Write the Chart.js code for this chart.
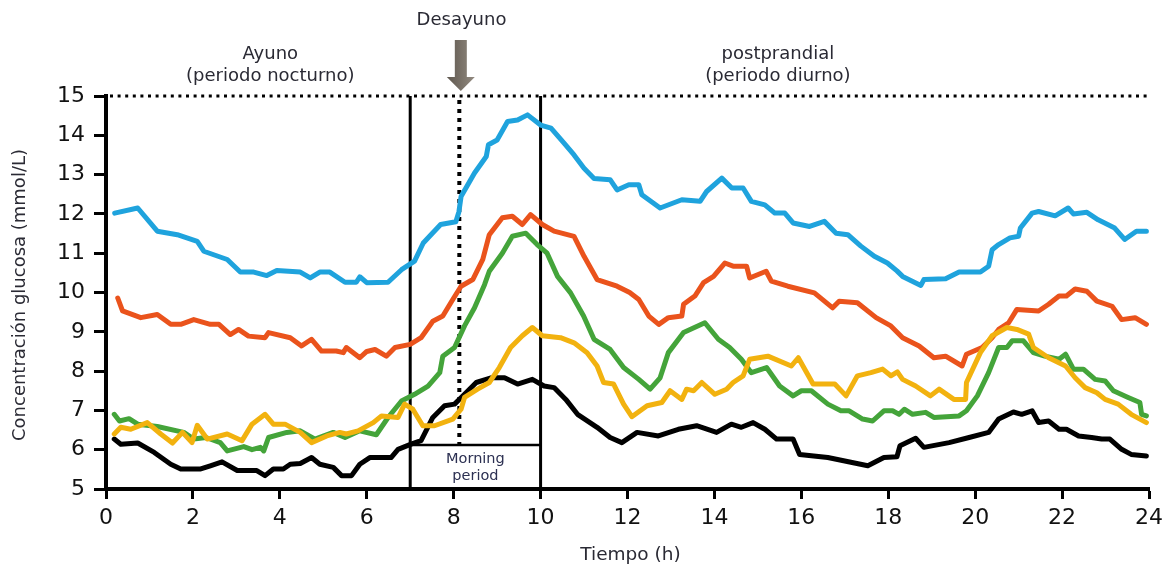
<!DOCTYPE html>
<html>
<head>
<meta charset="utf-8">
<script src="https://cdn.jsdelivr.net/npm/chart.js@4.4.0/dist/chart.umd.min.js"></script>
<style>
  body { margin: 0; background: #fff; }
  #wrap { width: 1169px; height: 567px; }
</style>
</head>
<body>
<div id="wrap"><canvas id="glucosa" width="1169" height="567"></canvas></div>
<script>
/* --------------- Series: [hour, mmol/L] --------------- */

const serieAzul = [[0.2,12.02],[0.73,12.15],[1.18,11.56],[1.64,11.47],[2.1,11.3],[2.25,11.05],[2.79,10.84],[3.09,10.52],[3.4,10.52],[3.7,10.43],[3.93,10.56],[4.47,10.52],[4.7,10.37],[4.92,10.52],[5.15,10.52],[5.5,10.26],[5.76,10.26],[5.84,10.4],[6.0,10.25],[6.49,10.26],[6.8,10.58],[7.1,10.8],[7.3,11.26],[7.7,11.73],[8.05,11.8],[8.12,12.05],[8.17,12.44],[8.48,13.04],[8.75,13.46],[8.8,13.76],[9.0,13.88],[9.24,14.35],[9.47,14.39],[9.7,14.52],[10.0,14.26],[10.24,14.18],[10.54,13.8],[10.77,13.5],[11.0,13.16],[11.23,12.9],[11.6,12.87],[11.76,12.61],[12.03,12.74],[12.26,12.74],[12.33,12.49],[12.75,12.15],[13.25,12.36],[13.67,12.32],[13.82,12.57],[14.17,12.91],[14.4,12.66],[14.66,12.66],[14.85,12.32],[15.16,12.23],[15.39,12.02],[15.62,12.02],[15.81,11.77],[16.19,11.68],[16.53,11.81],[16.8,11.51],[17.07,11.47],[17.37,11.18],[17.68,10.92],[17.98,10.75],[18.2,10.55],[18.33,10.41],[18.75,10.18],[18.82,10.33],[19.32,10.35],[19.63,10.52],[20.12,10.52],[20.31,10.67],[20.39,11.09],[20.54,11.22],[20.8,11.39],[21.0,11.43],[21.04,11.64],[21.31,12.02],[21.46,12.06],[21.84,11.95],[22.14,12.15],[22.26,12.0],[22.57,12.04],[22.83,11.85],[23.21,11.64],[23.44,11.35],[23.71,11.56],[23.94,11.56]];

const serieNaranja = [[0.27,9.86],[0.38,9.53],[0.8,9.36],[1.18,9.44],[1.49,9.19],[1.72,9.19],[2.02,9.31],[2.4,9.19],[2.6,9.19],[2.86,8.93],[3.05,9.06],[3.28,8.89],[3.66,8.85],[3.74,8.98],[4.24,8.85],[4.5,8.64],[4.73,8.81],[4.96,8.51],[5.3,8.51],[5.46,8.47],[5.53,8.6],[5.84,8.34],[6.0,8.5],[6.19,8.55],[6.45,8.38],[6.65,8.6],[7.0,8.68],[7.25,8.85],[7.52,9.27],[7.75,9.4],[7.98,9.82],[8.17,10.16],[8.44,10.33],[8.67,10.84],[8.82,11.47],[9.12,11.9],[9.35,11.94],[9.58,11.73],[9.77,11.98],[10.04,11.73],[10.31,11.56],[10.77,11.43],[11.0,10.92],[11.3,10.33],[11.76,10.16],[12.05,10.0],[12.26,9.82],[12.49,9.4],[12.72,9.19],[12.94,9.36],[13.25,9.4],[13.29,9.7],[13.55,9.91],[13.75,10.25],[13.98,10.41],[14.24,10.75],[14.43,10.67],[14.74,10.67],[14.81,10.37],[15.19,10.54],[15.31,10.29],[15.69,10.16],[16.3,9.99],[16.72,9.61],[16.87,9.78],[17.29,9.74],[17.72,9.36],[18.06,9.15],[18.33,8.85],[18.71,8.64],[19.05,8.34],[19.32,8.38],[19.7,8.13],[19.8,8.43],[20.16,8.6],[20.39,8.85],[20.54,9.06],[20.77,9.23],[20.96,9.57],[21.46,9.53],[21.69,9.7],[21.93,9.91],[22.1,9.91],[22.3,10.09],[22.57,10.03],[22.8,9.78],[23.15,9.65],[23.37,9.31],[23.68,9.36],[23.94,9.19]];

const serieVerde = [[0.19,6.9],[0.31,6.73],[0.53,6.79],[0.73,6.65],[1.18,6.59],[1.79,6.44],[2.02,6.27],[2.3,6.31],[2.63,6.18],[2.79,5.97],[3.17,6.08],[3.36,6.0],[3.55,6.06],[3.63,5.97],[3.74,6.31],[4.16,6.44],[4.47,6.48],[4.81,6.27],[5.23,6.44],[5.5,6.31],[5.84,6.48],[6.22,6.38],[6.49,6.82],[6.8,7.24],[7.1,7.41],[7.41,7.62],[7.68,7.96],[7.75,8.38],[8.02,8.6],[8.25,9.15],[8.48,9.61],[8.71,10.2],[8.82,10.54],[9.12,11.0],[9.35,11.43],[9.66,11.51],[9.92,11.22],[10.15,11.0],[10.39,10.41],[10.69,9.99],[10.99,9.4],[11.23,8.81],[11.6,8.55],[11.91,8.09],[12.26,7.79],[12.52,7.54],[12.75,7.83],[12.94,8.47],[13.29,8.98],[13.78,9.23],[14.09,8.81],[14.35,8.6],[14.62,8.3],[14.85,7.96],[15.2,8.09],[15.5,7.62],[15.81,7.37],[16.0,7.5],[16.23,7.5],[16.61,7.16],[16.91,6.99],[17.1,6.99],[17.41,6.78],[17.64,6.73],[17.9,6.99],[18.1,6.99],[18.25,6.9],[18.37,7.03],[18.56,6.9],[18.86,6.95],[19.05,6.82],[19.63,6.86],[19.8,6.99],[20.05,7.37],[20.31,7.96],[20.54,8.6],[20.73,8.6],[20.85,8.77],[21.11,8.77],[21.34,8.47],[21.6,8.38],[21.93,8.3],[22.08,8.43],[22.26,8.05],[22.49,8.05],[22.76,7.79],[22.99,7.75],[23.18,7.5],[23.52,7.33],[23.79,7.2],[23.83,6.9],[23.94,6.86]];

const serieAmarilla = [[0.19,6.4],[0.34,6.57],[0.57,6.52],[0.95,6.69],[1.26,6.4],[1.53,6.17],[1.76,6.44],[1.98,6.18],[2.1,6.62],[2.33,6.27],[2.79,6.4],[3.13,6.23],[3.36,6.65],[3.66,6.9],[3.85,6.65],[4.12,6.65],[4.47,6.44],[4.73,6.18],[5.08,6.35],[5.38,6.44],[5.53,6.4],[5.8,6.48],[6.15,6.69],[6.34,6.86],[6.72,6.82],[6.87,7.16],[7.06,7.03],[7.29,6.61],[7.56,6.61],[7.98,6.78],[8.17,7.03],[8.25,7.33],[8.55,7.54],[8.82,7.71],[9.05,8.09],[9.31,8.6],[9.58,8.9],[9.81,9.11],[10.04,8.9],[10.46,8.85],[10.77,8.72],[11.07,8.47],[11.3,8.13],[11.45,7.71],[11.68,7.67],[11.91,7.16],[12.1,6.84],[12.45,7.12],[12.79,7.2],[12.98,7.5],[13.25,7.28],[13.36,7.54],[13.52,7.5],[13.71,7.71],[14.01,7.41],[14.28,7.54],[14.43,7.71],[14.66,7.88],[14.81,8.3],[15.23,8.38],[15.77,8.13],[15.93,8.34],[16.27,7.67],[16.42,7.67],[16.77,7.67],[17.03,7.37],[17.29,7.88],[17.6,7.96],[17.87,8.05],[18.06,7.88],[18.21,7.98],[18.33,7.79],[18.63,7.62],[18.97,7.37],[19.17,7.54],[19.51,7.28],[19.78,7.28],[19.8,7.71],[20.12,8.47],[20.39,8.9],[20.73,9.11],[20.96,9.06],[21.23,8.94],[21.34,8.6],[21.69,8.34],[22.08,8.13],[22.3,7.83],[22.53,7.58],[22.8,7.45],[22.99,7.28],[23.29,7.16],[23.59,6.9],[23.94,6.69]];

const serieNegra = [[0.19,6.27],[0.34,6.14],[0.73,6.17],[1.11,5.93],[1.49,5.63],[1.72,5.51],[2.18,5.51],[2.4,5.59],[2.67,5.69],[3.02,5.47],[3.47,5.47],[3.66,5.34],[3.85,5.51],[4.08,5.51],[4.24,5.63],[4.47,5.65],[4.73,5.8],[4.92,5.63],[5.23,5.55],[5.42,5.34],[5.65,5.34],[5.84,5.63],[6.07,5.8],[6.56,5.8],[6.72,6.01],[7.02,6.14],[7.25,6.23],[7.52,6.82],[7.79,7.12],[8.02,7.16],[8.25,7.41],[8.52,7.71],[8.86,7.83],[9.17,7.83],[9.47,7.67],[9.81,7.79],[10.08,7.62],[10.31,7.58],[10.58,7.28],[10.85,6.9],[11.3,6.57],[11.6,6.31],[11.87,6.18],[12.22,6.44],[12.71,6.35],[13.17,6.52],[13.59,6.61],[14.05,6.44],[14.39,6.65],[14.62,6.57],[14.89,6.69],[15.16,6.52],[15.43,6.27],[15.81,6.27],[15.96,5.88],[16.61,5.8],[17.53,5.59],[17.9,5.8],[18.2,5.82],[18.27,6.1],[18.63,6.29],[18.82,6.06],[19.4,6.18],[19.86,6.31],[20.31,6.44],[20.54,6.78],[20.88,6.96],[21.07,6.9],[21.31,6.99],[21.46,6.69],[21.69,6.73],[21.93,6.52],[22.1,6.52],[22.38,6.35],[22.68,6.31],[22.91,6.27],[23.1,6.27],[23.37,6.01],[23.59,5.88],[23.94,5.84]];

/* --------------- Marks on the time axis --------------- */

const horaAyunoFin = 7;
const horaDesayuno = 8.13;
const horaPostprandial = 10;
const limiteSuperior = 15;
const limiteMorning = 6.12;

const textoFont = '"DejaVu Sans", Verdana, sans-serif';
const textoColor = '#2a2a34';

const toXY = (serie) => serie.map(p => ({ x: p[0], y: p[1] }));

function linea(label, serie, color) {
  return {
    label,
    data: toXY(serie),
    borderColor: color,
    borderWidth: 5,
    pointRadius: 0,
    tension: 0,
    borderJoinStyle: 'round',
    borderCapStyle: 'round',
  };
}

/* --------------- Reference lines and texts --------------- */

const anotaciones = {
  id: 'anotaciones',
  beforeDatasetsDraw(chart) {
    const { ctx, chartArea: a, scales: { x, y } } = chart;
    ctx.save();
    ctx.strokeStyle = '#000';

    // solid period limits
    ctx.lineWidth = 3;
    [horaAyunoFin, horaPostprandial].forEach(h => {
      ctx.beginPath();
      ctx.moveTo(x.getPixelForValue(h), y.getPixelForValue(limiteSuperior));
      ctx.lineTo(x.getPixelForValue(h), a.bottom);
      ctx.stroke();
    });

    // morning period box top
    ctx.lineWidth = 2.5;
    ctx.beginPath();
    ctx.moveTo(x.getPixelForValue(horaAyunoFin), y.getPixelForValue(limiteMorning));
    ctx.lineTo(x.getPixelForValue(horaPostprandial), y.getPixelForValue(limiteMorning));
    ctx.stroke();

    // breakfast (dotted)
    ctx.lineWidth = 4;
    ctx.setLineDash([4, 5]);
    ctx.beginPath();
    ctx.moveTo(x.getPixelForValue(horaDesayuno), y.getPixelForValue(limiteSuperior) + 4);
    ctx.lineTo(x.getPixelForValue(horaDesayuno), y.getPixelForValue(limiteMorning));
    ctx.stroke();

    // upper limit (dotted)
    ctx.lineWidth = 3;
    ctx.setLineDash([3, 4.6]);
    ctx.beginPath();
    ctx.moveTo(a.left + 4, y.getPixelForValue(limiteSuperior));
    ctx.lineTo(a.right, y.getPixelForValue(limiteSuperior));
    ctx.stroke();
    ctx.restore();
  },
  afterDraw(chart) {
    const { ctx, chartArea: a, scales: { x, y } } = chart;
    ctx.save();
    ctx.fillStyle = textoColor;
    ctx.textAlign = 'center';
    ctx.textBaseline = 'middle';

    ctx.font = '18px ' + textoFont;
    ctx.fillText('Ayuno', x.getPixelForValue(3.78), a.top - 42);
    ctx.fillText('(periodo nocturno)', x.getPixelForValue(3.78), a.top - 20);
    ctx.fillText('postprandial', x.getPixelForValue(15.46), a.top - 42);
    ctx.fillText('(periodo diurno)', x.getPixelForValue(15.46), a.top - 20);
    ctx.fillText('Desayuno', x.getPixelForValue(8.18), a.top - 76);

    // arrow pointing at breakfast
    const ax = x.getPixelForValue(horaDesayuno) + 1.5;
    const grad = ctx.createLinearGradient(ax - 14, 0, ax + 14, 0);
    grad.addColorStop(0, '#5f584f');
    grad.addColorStop(1, '#928a80');
    ctx.fillStyle = grad;
    ctx.fillRect(ax - 6, a.top - 56, 12, 38);
    ctx.beginPath();
    ctx.moveTo(ax - 14, a.top - 19);
    ctx.lineTo(ax + 14, a.top - 19);
    ctx.lineTo(ax, a.top - 5);
    ctx.closePath();
    ctx.fill();

    // morning period label
    ctx.fillStyle = '#2c3052';
    ctx.font = '14.5px ' + textoFont;
    const mx = (x.getPixelForValue(horaAyunoFin) + x.getPixelForValue(horaPostprandial)) / 2;
    ctx.fillText('Morning', mx, 459);
    ctx.fillText('period', mx, 476);

    // axis titles
    ctx.fillStyle = textoColor;
    ctx.font = '18.5px ' + textoFont;
    ctx.fillText('Tiempo (h)', (a.left + a.right) / 2 + 3, 555);
    ctx.font = '18px ' + textoFont;
    ctx.translate(20, 295);
    ctx.rotate(-Math.PI / 2);
    ctx.fillText('Concentración glucosa (mmol/L)', 0, 0);
    ctx.restore();
  }
};

/* --------------- Chart --------------- */

new Chart(document.getElementById('glucosa'), {
  type: 'line',
  plugins: [anotaciones],
  data: {
    datasets: [
      linea('amarilla', serieAmarilla, '#f2b20f'),
      linea('negra', serieNegra, '#000000'),
      linea('verde', serieVerde, '#44a43a'),
      linea('naranja', serieNaranja, '#ea531c'),
      linea('azul', serieAzul, '#1fa3dd'),
    ],
  },
  options: {
    responsive: false,
    animation: false,
    events: [],
    layout: { padding: { left: 0, right: 12, top: 96, bottom: 0 } },
    plugins: {
      legend: { display: false },
      tooltip: { enabled: false },
    },
    scales: {
      x: {
        type: 'linear',
        min: 0,
        max: 24,
        afterFit: (s) => { s.height = 78; },
        ticks: {
          stepSize: 2,
          color: '#111',
          padding: 6,
          font: { family: textoFont, size: 22 },
        },
        grid: { drawOnChartArea: false, tickLength: 10, tickWidth: 3, tickColor: '#000' },
        border: { display: true, width: 4, color: '#000' },
      },
      y: {
        min: 5,
        max: 15,
        afterFit: (s) => { s.width = 106; },
        ticks: {
          stepSize: 1,
          color: '#111',
          padding: 9,
          font: { family: textoFont, size: 22 },
        },
        grid: { drawOnChartArea: false, tickLength: 12, tickWidth: 3, tickColor: '#000' },
        border: { display: true, width: 4, color: '#000' },
      },
    },
  },
});
</script>
</body>
</html>
